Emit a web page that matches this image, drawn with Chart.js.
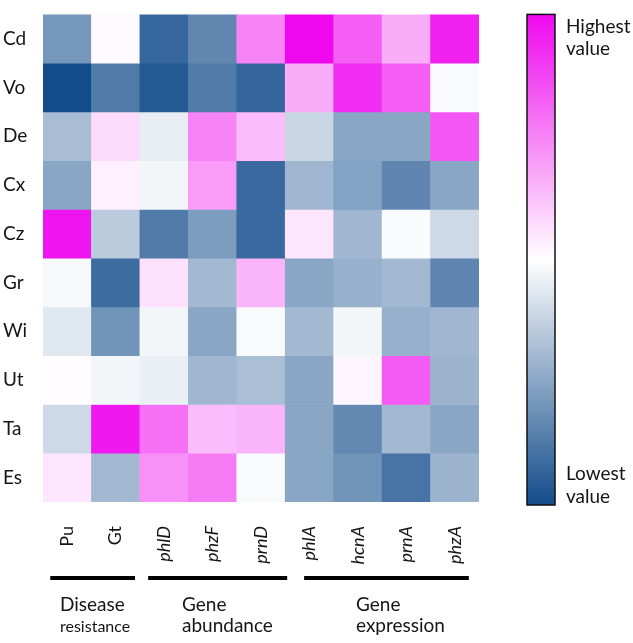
<!DOCTYPE html>
<html>
<head>
<meta charset="utf-8">
<script src="https://cdn.jsdelivr.net/npm/chart.js@4/dist/chart.umd.min.js"></script>
<style>
  html, body { margin: 0; padding: 0; background: #fff; }
  #wrap { position: relative; width: 633px; height: 643px; }
</style>
</head>
<body>
<div id="wrap"><canvas id="heat"></canvas></div>
<script>
// --- data -------------------------------------------------------------
// columns (traits), rows (samples); values scaled -1 (lowest) .. +1 (highest)
var columns = ["Pu", "Gt", "phlD", "phzF", "prnD", "phlA", "hcnA", "prnA", "phzA"];
var italicCols = ["phlD", "phzF", "prnD", "phlA", "hcnA", "prnA", "phzA"];
var rows = ["Cd", "Vo", "De", "Cx", "Cz", "Gr", "Wi", "Ut", "Ta", "Es"];

var cd = [-0.58, 0.02, -0.85, -0.67, 0.50, 1.00, 0.65, 0.33, 0.90];
var vo = [-1.00, -0.74, -0.93, -0.74, -0.86, 0.33, 0.85, 0.65, -0.03];
var de = [-0.37, 0.15, -0.10, 0.50, 0.27, -0.23, -0.50, -0.50, 0.68];
var cx = [-0.50, 0.06, -0.05, 0.40, -0.84, -0.40, -0.52, -0.68, -0.50];
var cz = [0.95, -0.29, -0.74, -0.55, -0.84, 0.10, -0.40, -0.02, -0.21];
var gr = [-0.04, -0.82, 0.12, -0.39, 0.30, -0.50, -0.44, -0.39, -0.68];
var wi = [-0.13, -0.60, -0.05, -0.50, -0.03, -0.39, -0.05, -0.44, -0.40];
var ut = [0.01, -0.05, -0.09, -0.40, -0.36, -0.50, 0.04, 0.67, -0.42];
var ta = [-0.21, 0.93, 0.58, 0.27, 0.30, -0.50, -0.66, -0.39, -0.50];
var es = [0.10, -0.39, 0.45, 0.53, -0.03, -0.50, -0.60, -0.78, -0.42];

var groups = [
    ["Disease", "resistance"],
    ["Gene", "abundance"],
    ["Gene", "expression"]
];

// ----------------------------------------------------------------------
var LOW = [19, 76, 139];
var HIGH = [238, 8, 238];
var FONT = "Lato, 'Open Sans', sans-serif";
var INK = "#151515";
// bracket spans (in column units) and text anchors for the group captions
var bracketSpans = [[-0.35, 1.40], [1.67, 4.54], [4.89, 8.29]];
var captionX = [60, 182, 356];

function cellColor(v) { // white in the middle, blue below, magenta above
    var end = v < 0 ? LOW : HIGH;
    var t = Math.min(Math.abs(v), 1);
    var c = [0, 1, 2].map(function (k) {
        return Math.round(255 + (end[k] - 255) * t);
    });
    return "rgb(" + c.join(",") + ")";
}

var table = [cd, vo, de, cx, cz, gr, wi, ut, ta, es];
var datasets = table.map(function (rowVals, r) {
    return {
        label: rows[r],
        data: rowVals.map(function () { return [r, r + 1]; }),
        backgroundColor: rowVals.map(cellColor),
        borderWidth: 0,
        barPercentage: 1.0,
        categoryPercentage: 1.0,
        grouped: false
    };
});

var decorations = {
    id: "decorations",
    afterDraw: function (chart) {
        var ctx = chart.ctx;
        var area = chart.chartArea;
        var x = chart.scales.x;
        ctx.save();

        // colour bar
        var bx = 527, bw = 28, by = area.top, bh = 505 - area.top;
        var grad = ctx.createLinearGradient(0, by, 0, by + bh);
        for (var i = 0; i <= 20; i++) {
            grad.addColorStop(i / 20, cellColor(1 - i / 10));
        }
        ctx.fillStyle = grad;
        ctx.fillRect(bx, by, bw, bh);
        ctx.lineWidth = 1.5;
        ctx.strokeStyle = "#111";
        ctx.strokeRect(bx, by, bw, bh);

        ctx.fillStyle = INK;
        ctx.textAlign = "left";
        ctx.textBaseline = "alphabetic";
        ctx.font = "19px " + FONT;
        ctx.fillText("Highest", 566, 33);
        ctx.fillText("value", 566, 55);
        ctx.fillText("Lowest", 566, 480);
        ctx.fillText("value", 566, 503);

        // group brackets and names
        groups.forEach(function (g, k) {
            var x0 = x.getPixelForValue(bracketSpans[k][0]);
            var x1 = x.getPixelForValue(bracketSpans[k][1]);
            ctx.fillStyle = "#000";
            ctx.fillRect(x0, 576, x1 - x0, 4);
            ctx.fillStyle = INK;
            ctx.font = "19px " + FONT;
            ctx.fillText(g[0], captionX[k], 611);
            ctx.font = (k === 0 ? "16px " : "19px ") + FONT;
            ctx.fillText(g[1], captionX[k], 632);
        });
        ctx.restore();
    }
};

var chart = new Chart(document.getElementById("heat"), {
    type: "bar",
    data: {labels: columns, datasets: datasets},
    options: {
        responsive: true,
        maintainAspectRatio: false,
        animation: false,
        layout: {padding: {left: 3, top: 7, right: 154, bottom: 0}},
        plugins: {legend: {display: false}, tooltip: {enabled: false}},
        scales: {
            x: {
                type: "category",
                offset: true,
                grid: {display: false},
                border: {display: false},
                afterFit: function (s) { s.height = 141; },
                ticks: {
                    autoSkip: false,
                    minRotation: 90,
                    maxRotation: 90,
                    padding: 16,
                    color: INK,
                    font: function (c) {
                        var lab = columns[c.index];
                        return {family: FONT, size: 18,
                            style: italicCols.indexOf(lab) >= 0 ? "italic" : "normal"};
                    }
                }
            },
            y: {
                type: "linear",
                min: 0,
                max: rows.length,
                reverse: true,
                grid: {display: false},
                border: {display: false},
                afterFit: function (s) { s.width = 40; },
                afterBuildTicks: function (s) {
                    s.ticks = rows.map(function (r, i) { return {value: i + 0.5}; });
                },
                ticks: {
                    autoSkip: false,
                    crossAlign: "far",
                    color: INK,
                    font: {family: FONT, size: 19},
                    callback: function (v) { return rows[Math.floor(v)]; }
                }
            }
        }
    },
    plugins: [decorations]
});
</script>
</body>
</html>
